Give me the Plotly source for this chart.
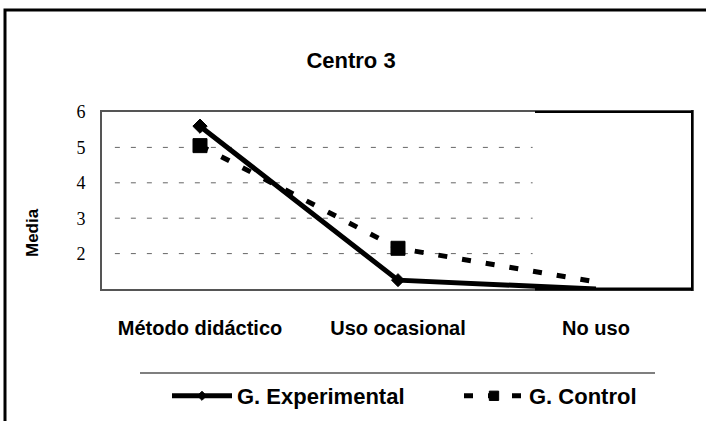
import plotly.graph_objects as go

# ---- data ----
categories = ["Método didáctico", "Uso ocasional", "No uso"]
experimental = [5.6, 1.25, 1.0]
control = [5.05, 2.15, 1.2]
y_ticks = [2, 3, 4, 5, 6]
grid_values = [2, 3, 4, 5]

W, H = 706, 421
ML, MR, MT, MB = 102, 14, 112, 132
PW, PH = W - ML - MR, H - MT - MB

def px_x(px):
    return (px - ML) / PW

def px_y(py):
    return (H - MB - py) / PH

SANS = "Arial, Liberation Sans, sans-serif"
SERIF = "Times New Roman, Liberation Serif, serif"

fig = go.Figure()
fig.add_trace(go.Scatter(
    x=categories, y=experimental, name="<b>G. Experimental</b>",
    mode="lines+markers",
    line=dict(color="black", width=5),
    marker=dict(symbol="diamond", size=[11, 10, 0], color="black", opacity=1,
                line=dict(color="black", width=1)),
    cliponaxis=False,
))
fig.add_trace(go.Scatter(
    x=categories, y=control, name="<b>G. Control</b>",
    mode="lines+markers",
    line=dict(color="black", width=5, dash="9px,15px"),
    marker=dict(symbol="square", size=[14, 14, 0], color="black", opacity=1,
                line=dict(color="black", width=1)),
    cliponaxis=False,
))

shapes = []
# dashed gridlines (partial width)
for v in grid_values:
    shapes.append(dict(type="line", xref="x", yref="y", x0=-0.43, x1=1.68, y0=v, y1=v,
                       line=dict(color="#666", width=1, dash="5px,11px"), layer="below"))
# black parts of plot frame
shapes.append(dict(type="line", xref="paper", yref="paper", x0=px_x(535), x1=1, y0=1, y1=1,
                   line=dict(color="black", width=2)))
shapes.append(dict(type="line", xref="paper", yref="paper", x0=px_x(535), x1=1, y0=0, y1=0,
                   line=dict(color="black", width=3)))
shapes.append(dict(type="line", xref="paper", yref="paper", x0=1, x1=1, y0=-0.01, y1=1.01,
                   line=dict(color="black", width=2)))
# legend separator line
shapes.append(dict(type="line", xref="paper", yref="paper", x0=px_x(140), x1=px_x(655),
                   y0=px_y(373), y1=px_y(373), line=dict(color="#555", width=1.5)))
# outer frame
shapes.append(dict(type="rect", xref="paper", yref="paper", x0=px_x(5), x1=px_x(760),
                   y0=px_y(480), y1=px_y(10), line=dict(color="black", width=3)))

fig.update_layout(
    width=W, height=H,
    margin=dict(l=ML, r=MR, t=MT, b=MB),
    paper_bgcolor="white", plot_bgcolor="white",
    title=dict(text="<b>Centro 3</b>", font=dict(family=SANS, size=22, color="black"),
               x=351 / W, xanchor="center", xref="container",
               y=1 - 60 / H, yanchor="middle", yref="container"),
    xaxis=dict(type="category", range=[-0.495, 2.485], showgrid=False,
               showline=True, mirror=True, linecolor="#555", linewidth=2,
               ticks="", ticklabelstandoff=20,
               tickfont=dict(family=SANS, size=20, color="black"),
               tickvals=categories, ticktext=["<b>%s</b>" % c for c in categories]),
    yaxis=dict(range=[1, 6], tickvals=y_ticks, showgrid=False, zeroline=False,
               showline=True, mirror=True, linecolor="#555", linewidth=2,
               ticks="", ticklabelstandoff=11,
               tickfont=dict(family=SERIF, size=18, color="black")),
    showlegend=True,
    legend=dict(orientation="h", xref="container", yref="container",
                x=167 / W, xanchor="left", y=1 - 396 / H, yanchor="middle",
                font=dict(family=SANS, size=22, color="black"),
                itemwidth=60, entrywidth=217, entrywidthmode="pixels",
                bgcolor="rgba(0,0,0,0)"),
    shapes=shapes,
    annotations=[dict(text="<b>Media</b>", textangle=-90, xref="paper", yref="paper",
                      x=px_x(32), y=px_y(233), xanchor="center", yanchor="middle",
                      showarrow=False,
                      font=dict(family=SANS, size=17, color="black"))],
)

fig.write_html("out.html", config={"displayModeBar": False},
               post_script="document.body.style.margin='0';")
